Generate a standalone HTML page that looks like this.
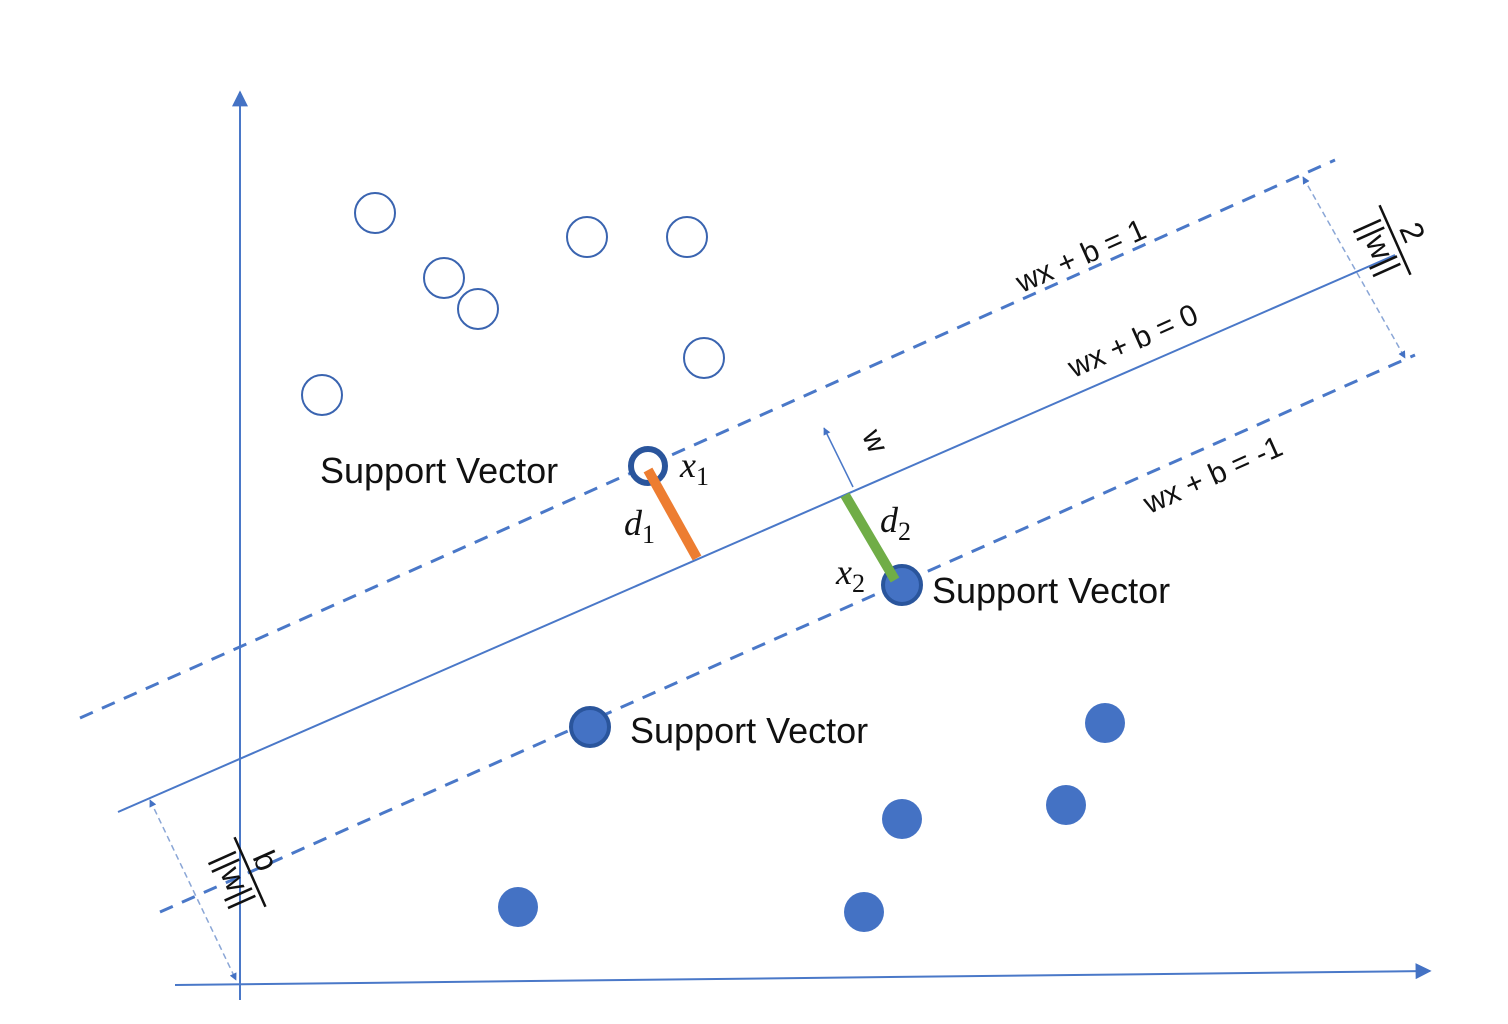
<!DOCTYPE html>
<html><head><meta charset="utf-8"><style>body{margin:0;background:#fff}svg{display:block}</style></head><body>
<svg width="1508" height="1024" viewBox="0 0 1508 1024" xmlns="http://www.w3.org/2000/svg" font-family="Liberation Sans, sans-serif">
<defs>
<marker id="a" viewBox="0 0 10 10" refX="9" refY="5" markerWidth="8" markerHeight="8" orient="auto-start-reverse"><path d="M0,0L10,5L0,10z" fill="#4472C4"/></marker>
<marker id="s" viewBox="0 0 10 10" refX="9" refY="5" markerWidth="5" markerHeight="5" orient="auto-start-reverse"><path d="M0,0L10,5L0,10z" fill="#4472C4"/></marker>
</defs>
<g stroke="#4a78c8" fill="none">
<line x1="240" y1="1000" x2="240" y2="92" stroke-width="2" marker-end="url(#a)"/>
<line x1="175" y1="985" x2="1430" y2="971" stroke-width="2" marker-end="url(#a)"/>
<line x1="118" y1="812" x2="1395" y2="255" stroke-width="2"/>
<line x1="80" y1="718" x2="1335" y2="160" stroke-width="3" stroke-dasharray="14,10"/>
<line x1="160" y1="912" x2="1415" y2="355" stroke-width="3" stroke-dasharray="14,10"/>
</g>
<g stroke="#8aa6d6" stroke-width="1.5" stroke-dasharray="6,4" fill="none">
<line x1="1303" y1="177" x2="1405" y2="358" marker-start="url(#s)" marker-end="url(#s)"/>
<line x1="150" y1="800" x2="236" y2="980" marker-start="url(#s)" marker-end="url(#s)"/>
</g>
<line x1="853" y1="487" x2="824" y2="428" stroke="#4a78c8" stroke-width="1.5" marker-end="url(#s)"/>
<g fill="#fff" stroke="#3a64b0" stroke-width="2">
<circle cx="375" cy="213" r="20"/><circle cx="587" cy="237" r="20"/><circle cx="687" cy="237" r="20"/>
<circle cx="444" cy="278" r="20"/><circle cx="478" cy="309" r="20"/><circle cx="704" cy="358" r="20"/><circle cx="322" cy="395" r="20"/>
</g>
<circle cx="648" cy="466" r="17" fill="#fff" stroke="#2a559c" stroke-width="6"/>
<g fill="#4472C4">
<circle cx="1105" cy="723" r="20"/><circle cx="902" cy="819" r="20"/><circle cx="1066" cy="805" r="20"/><circle cx="518" cy="907" r="20"/><circle cx="864" cy="912" r="20"/>
</g>
<circle cx="590" cy="727" r="19" fill="#4472C4" stroke="#2a559c" stroke-width="4"/>
<circle cx="902" cy="585" r="19" fill="#4472C4" stroke="#2a559c" stroke-width="4"/>
<line x1="648" y1="470" x2="697" y2="558" stroke="#ED7D31" stroke-width="10"/>
<line x1="845" y1="495" x2="895" y2="580" stroke="#70AD47" stroke-width="10"/>
<g fill="#111" font-size="36">
<text x="320" y="483">Support Vector</text>
<text x="932" y="603">Support Vector</text>
<text x="630" y="743">Support Vector</text>
</g>
<g fill="#111" font-family="Liberation Serif, serif" font-style="italic" font-size="36">
<text x="680" y="477">x<tspan font-size="26" font-style="normal" dy="8">1</tspan></text>
<text x="624" y="535">d<tspan font-size="26" font-style="normal" dy="8">1</tspan></text>
<text x="880" y="532">d<tspan font-size="26" font-style="normal" dy="8">2</tspan></text>
<text x="836" y="584">x<tspan font-size="26" font-style="normal" dy="8">2</tspan></text>
</g>
<g fill="#111" font-size="30">
<text transform="translate(1085,265) rotate(-24)" text-anchor="middle">wx + b = 1</text>
<text transform="translate(1137,350) rotate(-24)" text-anchor="middle">wx + b = 0</text>
<text transform="translate(1217,484) rotate(-24)" text-anchor="middle">wx + b = -1</text>
<text transform="translate(866,445) rotate(66)" text-anchor="middle">w</text>
</g>
<g fill="#111" font-size="32">
<g transform="translate(1395,240) rotate(66)">
<line x1="-38" y1="0" x2="38" y2="0" stroke="#111" stroke-width="2.5"/>
<text x="0" y="-8" text-anchor="middle">2</text>
<text x="0" y="28" text-anchor="middle">||w||</text>
</g>
<g transform="translate(250,872) rotate(66)">
<line x1="-38" y1="0" x2="38" y2="0" stroke="#111" stroke-width="2.5"/>
<text x="-4" y="-8" text-anchor="middle">b</text>
<text x="0" y="28" text-anchor="middle">||w||</text>
</g>
</g>
</svg>
</body></html>
